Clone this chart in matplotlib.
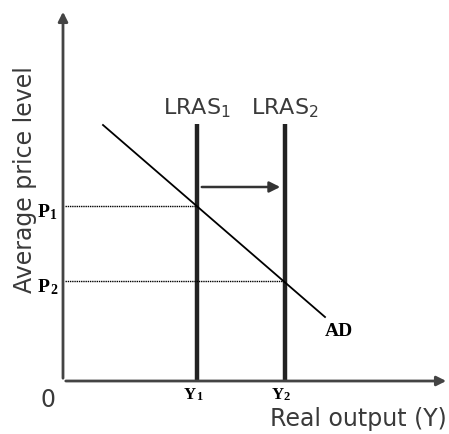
import matplotlib.pyplot as plt

# model positions (origin at 0,0)
y_outputs = [134, 222]          # Y1, Y2
p_levels = [175, 100]           # P1, P2
lras_labels = ["LRAS$_1$", "LRAS$_2$"]
ad_x = [40, 262]
ad_y = [256, 64]
lras_top = 257

txt_color = "#3a3a3a"
plt.rcParams['mathtext.fontset'] = 'custom'
plt.rcParams['mathtext.rm'] = 'DejaVu Sans'

fig = plt.figure(figsize=(4.49, 4.35), dpi=100)
ax = fig.add_axes([0, 0, 1, 1])
ax.set_xlim(-63, 386)
ax.set_ylim(-53, 382)
ax.axis('off')

# axes with arrows
ax.annotate("", xy=(386, 0), xytext=(0, 0),
            arrowprops=dict(arrowstyle="-|>", color="#444444", lw=2, mutation_scale=14))
ax.annotate("", xy=(0, 372), xytext=(0, 0),
            arrowprops=dict(arrowstyle="-|>", color="#444444", lw=2, mutation_scale=14))

# LRAS curves
for x in y_outputs:
    ax.plot([x, x], [0, lras_top], color="#222222", lw=3.2, solid_capstyle='butt')

# AD
ax.plot(ad_x, ad_y, color="black", lw=1.3)

# dotted guide lines
for x, p in zip(y_outputs, p_levels):
    ax.plot([2, x], [p, p], color="black", lw=1, linestyle=(0, (1, 0.6)))

# shift arrow
ax.annotate("", xy=(y_outputs[1] - 2, 194), xytext=(y_outputs[0] + 2, 194),
            arrowprops=dict(arrowstyle="-|>", color="#333333", lw=1.8, mutation_scale=16))

# labels
for x, lab in zip(y_outputs, lras_labels):
    ax.text(x, 262, lab, ha='center', va='bottom', fontsize=16, color=txt_color,
            family='DejaVu Sans')
for i, x in enumerate(y_outputs):
    ax.text(x - 1, -5, "Y", ha='right', va='top', fontsize=12, fontweight='bold',
            family='Liberation Serif', color='black')
    ax.text(x - 1, -9, str(i + 1), ha='left', va='top', fontsize=9, fontweight='bold',
            family='Liberation Serif', color='black')
for i, p in enumerate(p_levels):
    ax.text(-13, p - 6, "P", ha='right', va='center', fontsize=14, fontweight='bold',
            family='Liberation Serif', color='black')
    ax.text(-13, p - 9, str(i + 1), ha='left', va='center', fontsize=10, fontweight='bold',
            family='Liberation Serif', color='black')
ax.text(ad_x[1], ad_y[1] - 5, "AD", ha='left', va='top', fontsize=14, fontweight='bold',
        family='Liberation Serif', color='black')

ax.text(-15, -6, "0", ha='center', va='top', fontsize=17, color=txt_color, family='DejaVu Sans')
ax.text(384, -25, "Real output (Y)", ha='right', va='top', fontsize=17, color=txt_color,
        family='DejaVu Sans')
ax.text(-38, 202, "Average price level", ha='center', va='center', rotation=90,
        fontsize=17, color=txt_color, family='DejaVu Sans')

fig.savefig("out.png", dpi=100)
